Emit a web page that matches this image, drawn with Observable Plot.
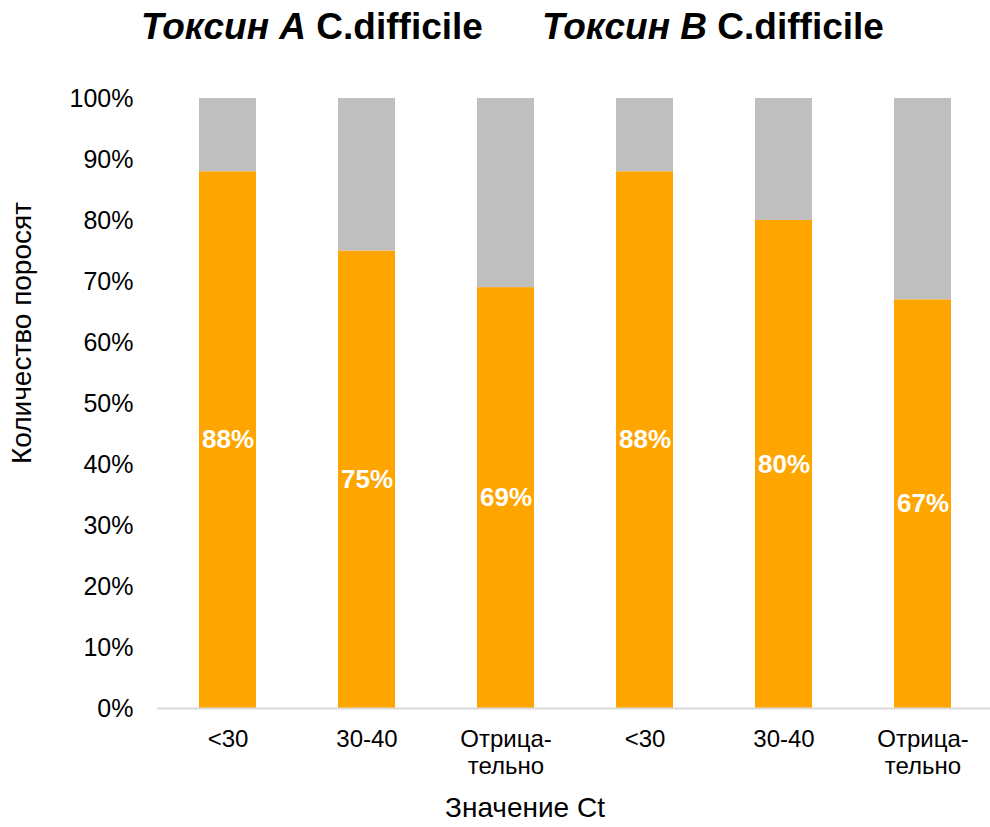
<!DOCTYPE html>
<html><head><meta charset="utf-8">
<script src="https://cdn.jsdelivr.net/npm/d3@7"></script>
<script src="https://cdn.jsdelivr.net/npm/@observablehq/plot@0.6"></script>
<style>
body{margin:0;background:#fff;font-family:"Liberation Sans",Arial,sans-serif}
#wrap{position:relative;width:990px;height:827px;overflow:hidden}
.t{position:absolute;white-space:nowrap;color:#000;line-height:1}
.title{font-size:37px;font-weight:bold;top:8px}
</style></head><body>
<div id="wrap">
  <div class="t title" style="left:141px"><i>Токсин A</i> C.difficile</div>
  <div class="t title" style="left:542px"><i>Токсин B</i> C.difficile</div>
  <div class="t" id="ytitle" style="font-size:28px;left:8px;top:333px;"></div>
  <div class="t" style="font-size:28px;left:525px;top:794px;transform:translateX(-50%)">Значение Ct</div>
</div>
<script>
const toxins = ["A", "B"];
const ctLabels = ["<30", "30-40", "Отрица-\nтельно"];
const positiveA = [88, 75, 69];
const positiveB = [88, 80, 67];
const yTicks = [0, 10, 20, 30, 40, 50, 60, 70, 80, 90, 100];

const rows = [];
[positiveA, positiveB].forEach((vals, ti) => {
  vals.forEach((v, ci) => rows.push({key: toxins[ti] + ci, ct: ctLabels[ci], pos: v}));
});
const labelOf = new Map(rows.map(d => [d.key, d.ct]));

const chart = Plot.plot({
  width: 990,
  height: 827,
  marginTop: 98,
  marginBottom: 119,
  marginLeft: 157,
  marginRight: 0,
  style: {fontFamily: "Liberation Sans, Arial, sans-serif", background: "white", overflow: "visible"},
  x: {type: "band", domain: rows.map(d => d.key), range: [157, 993], padding: 0},
  y: {domain: [0, 100], range: [708, 98]},
  marks: [
    Plot.barY(rows, {x: "key", y1: 0, y2: "pos", fill: "#FFA500", insetLeft: 41, insetRight: 41}),
    Plot.barY(rows, {x: "key", y1: "pos", y2: 100, fill: "#BFBFBF", insetLeft: 41, insetRight: 41}),
    Plot.ruleY([0], {stroke: "#D9D9D9", strokeWidth: 2}),
    Plot.text(rows, {x: "key", y: d => d.pos / 2, text: d => d.pos + "%", fill: "white", fontWeight: "bold", fontSize: 26}),
    Plot.axisY({ticks: yTicks, tickFormat: d => d + "%", tickSize: 0, tickPadding: 24, fontSize: 25, label: null, fill: "#000"}),
    Plot.axisX({tickFormat: k => labelOf.get(k), tickSize: 0, tickPadding: 20, fontSize: 24, lineHeight: 1.1, label: null, fill: "#000"})
  ]
});
chart.style.position = "absolute";
chart.style.left = "0";
chart.style.top = "0";
document.getElementById("wrap").prepend(chart);
const yt = document.getElementById("ytitle");
yt.textContent = "Количество поросят";
const r = yt.getBoundingClientRect();
yt.style.left = (22 - r.width / 2) + "px";
yt.style.top = (333 - r.height / 2) + "px";
yt.style.transformOrigin = "center center";
yt.style.transform = "rotate(-90deg)";
</script>
</body></html>
